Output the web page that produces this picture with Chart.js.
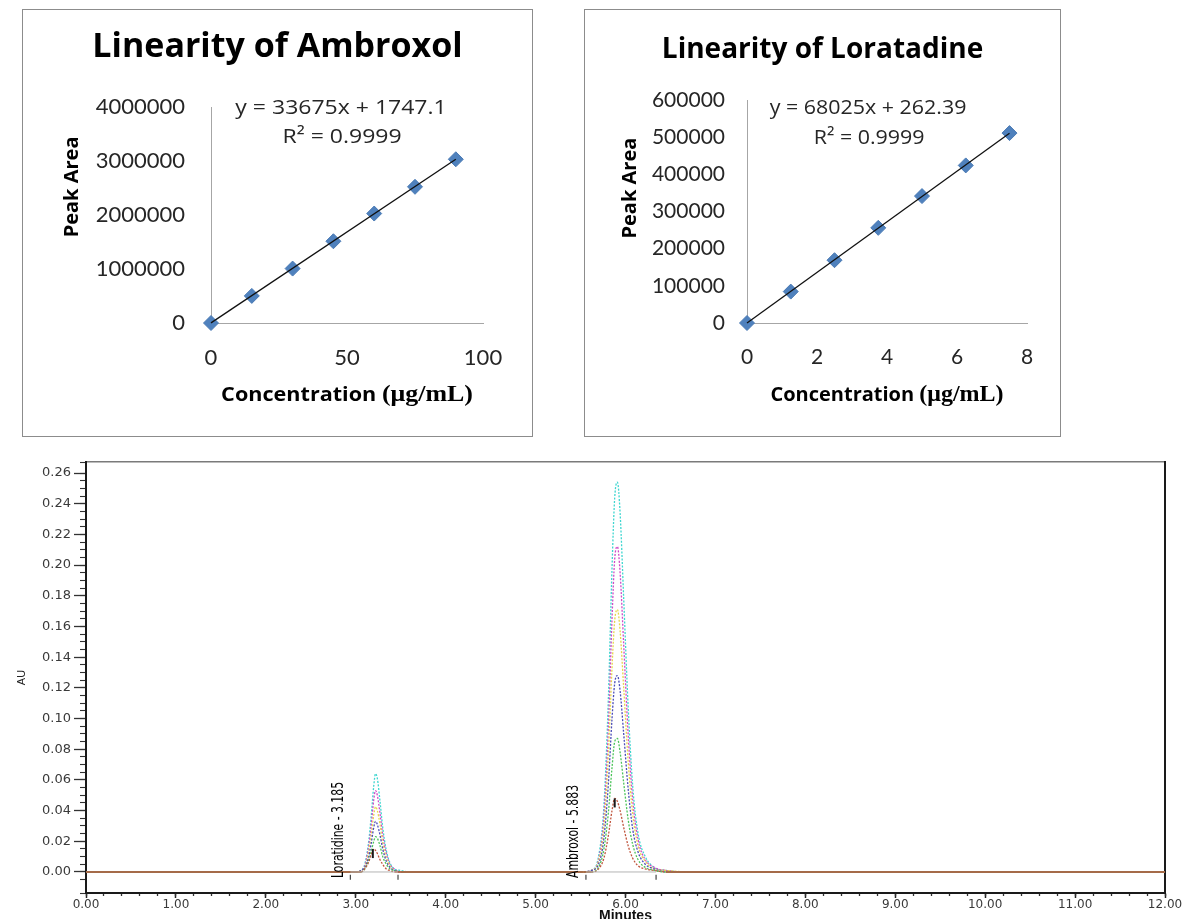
<!DOCTYPE html>
<html>
<head>
<meta charset="utf-8">
<title>Linearity and chromatogram</title>
<script src="https://cdn.jsdelivr.net/npm/chart.js@4.4.1/dist/chart.umd.min.js"></script>
<style>
  html, body { margin: 0; padding: 0; background: #fff; }
  body { width: 1184px; height: 919px; position: relative; overflow: hidden; }
  .panel { position: absolute; border: 1px solid #8c8c8c; background: #fff; }
  #ambroxolBox { left: 22px; top: 9px; width: 509px; height: 426px; }
  #loratadineBox { left: 584px; top: 9px; width: 475px; height: 426px; }
  #chromBox { position: absolute; left: 0; top: 450px; width: 1184px; height: 475px; }
  canvas { display: block; }
</style>
</head>
<body>
<div class="panel" id="ambroxolBox"><canvas id="ambroxolChart" width="509" height="426"></canvas></div>
<div class="panel" id="loratadineBox"><canvas id="loratadineChart" width="475" height="426"></canvas></div>
<div id="chromBox"><canvas id="chromChart" width="1184" height="475"></canvas></div>

<script>
// Calibration data
const ambroxolConc = [0, 15, 30, 45, 60, 75, 90];
const ambroxolArea = [0, 502000, 1008000, 1514000, 2027000, 2522000, 3032000];
const ambroxolSlope = 33675;
const ambroxolIntercept = 1747.1;

const loratadineConc = [0, 1.25, 2.5, 3.75, 5, 6.25, 7.5];
const loratadineArea = [0, 84500, 169000, 256000, 341500, 424000, 511000];
const loratadineSlope = 68025;
const loratadineIntercept = 262.39;

const rSquared = '0.9999';

// Overlaid chromatograms (AU vs minutes), one trace per level
const chromTime = [0,
    3.00, 3.06, 3.10, 3.14, 3.17, 3.20, 3.22, 3.24, 3.27, 3.30, 3.34, 3.38, 3.43, 3.50, 3.60,
    5.50, 5.62, 5.70, 5.76, 5.81, 5.85, 5.88, 5.91, 5.94, 5.98, 6.03, 6.08, 6.14, 6.22, 6.32, 6.45, 6.70,
    12.00];
const level6 = [0,
    0, 0.001, 0.005, 0.018, 0.035, 0.056, 0.064, 0.061, 0.046, 0.029, 0.014, 0.006, 0.002, 0.001, 0,
    0, 0.001, 0.010, 0.043, 0.114, 0.198, 0.244, 0.254, 0.234, 0.178, 0.107, 0.056, 0.025, 0.010, 0.003, 0.001, 0,
    0];
const level5 = [0,
    0, 0.001, 0.004, 0.015, 0.029, 0.047, 0.053, 0.050, 0.038, 0.024, 0.012, 0.005, 0.002, 0, 0,
    0, 0.001, 0.008, 0.036, 0.095, 0.165, 0.204, 0.212, 0.195, 0.148, 0.089, 0.047, 0.021, 0.008, 0.003, 0.001, 0,
    0];
const level4 = [0,
    0, 0.001, 0.003, 0.012, 0.023, 0.037, 0.0425, 0.040, 0.031, 0.019, 0.009, 0.004, 0.001, 0, 0,
    0, 0.001, 0.007, 0.029, 0.077, 0.133, 0.164, 0.171, 0.157, 0.120, 0.072, 0.038, 0.017, 0.007, 0.002, 0.001, 0,
    0];
const level3 = [0,
    0, 0.001, 0.003, 0.009, 0.018, 0.029, 0.033, 0.031, 0.024, 0.015, 0.007, 0.003, 0.001, 0, 0,
    0, 0.001, 0.005, 0.022, 0.058, 0.100, 0.123, 0.128, 0.118, 0.090, 0.054, 0.028, 0.013, 0.005, 0.002, 0, 0,
    0];
const level2 = [0,
    0, 0, 0.002, 0.007, 0.013, 0.020, 0.023, 0.022, 0.017, 0.010, 0.005, 0.002, 0.001, 0, 0,
    0, 0, 0.003, 0.015, 0.039, 0.068, 0.085, 0.087, 0.078, 0.058, 0.034, 0.018, 0.008, 0.003, 0.001, 0, 0,
    0];
const level1 = [0,
    0, 0, 0.002, 0.006, 0.011, 0.015, 0.014, 0.012, 0.008, 0.005, 0.002, 0.001, 0, 0, 0,
    0, 0, 0.002, 0.009, 0.024, 0.040, 0.048, 0.046, 0.040, 0.029, 0.017, 0.009, 0.004, 0.002, 0.001, 0, 0,
    0];

// Peak apex marks, integration start/end marks and peak names
const apexTime = [3.19, 5.88];
const apexValue = [0.012, 0.045];
const integrationTime = [2.94, 3.47, 5.56, 6.34];
const peakNames = ['Loratidine - 3.185', 'Ambroxol - 5.883'];

const traces = [level1, level2, level3, level4, level5, level6];
const traceColors = ['#c0563e', '#4cc45a', '#4a4cb8', '#e6d64c', '#d04ac8', '#3fd6d0'];

Chart.defaults.font.family = 'Lato, "Open Sans", sans-serif';
Chart.defaults.color = '#222';

const SANS = '"Open Sans", Lato, sans-serif';

// Free text placed in data coordinates (equations, axis captions, peak names)
const captionPlugin = {
    id: 'captions',
    afterDraw(chart, args, opts) {
        const { ctx, scales } = chart;
        (opts.items || []).forEach(item => {
            const px = scales.x.getPixelForValue(item.x);
            const py = scales.y.getPixelForValue(item.y);
            ctx.save();
            ctx.translate(px, py);
            if (item.rotate) ctx.rotate(item.rotate);
            let width = 0;
            item.runs.forEach(run => {
                ctx.font = run.font;
                width += ctx.measureText(run.text).width;
            });
            let sx = item.stretch || 1;
            if (item.maxWidth && width * sx > item.maxWidth) sx = item.maxWidth / width;
            ctx.scale(sx, 1);
            let cursor = item.align === 'start' ? 0 : -width / 2;
            ctx.fillStyle = item.color || '#000';
            ctx.textBaseline = 'middle';
            ctx.textAlign = 'left';
            item.runs.forEach(run => {
                ctx.font = run.font;
                ctx.fillText(run.text, cursor, 0);
                cursor += ctx.measureText(run.text).width;
            });
            ctx.restore();
        });
    }
};

function fixWidth(w) { return scale => { scale.width = w; }; }
function fixHeight(h) { return scale => { scale.height = h; }; }

// Calibration plot with trendline and equation
function linearityChart(id, cfg) {
    const points = cfg.conc.map((c, i) => ({ x: c, y: cfg.area[i] }));
    const xEnd = cfg.conc[cfg.conc.length - 1];
    const fitLine = [
        { x: 0, y: cfg.intercept },
        { x: xEnd, y: cfg.slope * xEnd + cfg.intercept }
    ];
    const sign = cfg.intercept >= 0 ? '+' : '-';
    const equation = `y = ${cfg.slope}x ${sign} ${Math.abs(cfg.intercept)}`;

    new Chart(document.getElementById(id), {
        type: 'scatter',
        data: {
            datasets: [{
                type: 'line',
                data: fitLine,
                borderColor: '#111',
                borderWidth: 1.3,
                pointRadius: 0,
                order: 0,
                clip: false
            }, {
                data: points,
                pointStyle: 'rectRot',
                pointRadius: 7.5,
                backgroundColor: '#4f81bd',
                borderColor: '#4a7ab4',
                borderWidth: 1,
                order: 1,
                clip: false
            }]
        },
        options: {
            responsive: false,
            animation: false,
            scales: {
                x: {
                    type: 'linear', min: 0, max: cfg.xMax,
                    grid: { display: false, drawTicks: false },
                    border: { color: '#a6a6a6', width: 1 },
                    ticks: { stepSize: cfg.xStep, padding: 22, font: { size: cfg.tickSize }, color: '#262626', callback: v => String(v) },
                    afterFit: fixHeight(113)
                },
                y: {
                    min: 0, max: cfg.yMax,
                    grid: { display: false, drawTicks: false },
                    border: { color: '#a6a6a6', width: 1 },
                    ticks: { stepSize: cfg.yStep, padding: cfg.yPad, font: { size: cfg.tickSize }, color: '#262626', callback: v => String(v) },
                    afterFit: fixWidth(cfg.yWidth)
                },
                // empty strip on the right so the title stays centred on the panel
                rightSpace: {
                    position: 'right', min: 0, max: 1,
                    grid: { display: false, drawTicks: false },
                    border: { display: false },
                    ticks: { display: false },
                    afterFit: fixWidth(cfg.padRight)
                }
            },
            plugins: {
                legend: { display: false },
                tooltip: { enabled: false },
                title: {
                    display: true,
                    text: cfg.title,
                    color: '#000',
                    font: { family: SANS, size: cfg.titleSize, weight: 'bold', lineHeight: 1.2 },
                    padding: cfg.titlePad
                },
                captions: {
                    items: [
                        { runs: [{ text: equation, font: '20px ' + SANS }], x: cfg.eqPos[0], y: cfg.eqPos[1], color: '#262626', stretch: cfg.eqStretch },
                        { runs: [{ text: 'R² = ' + rSquared, font: '20px ' + SANS }], x: cfg.r2Pos[0], y: cfg.r2Pos[1], color: '#262626', stretch: cfg.eqStretch },
                        {
                            runs: [
                                { text: 'Concentration ', font: 'bold 20px ' + SANS },
                                { text: '(μg/mL)', font: 'bold 24px "Liberation Serif", "DejaVu Serif", serif' }
                            ],
                            x: cfg.xTitlePos[0], y: cfg.xTitlePos[1], stretch: cfg.xTitleStretch
                        },
                        { runs: [{ text: 'Peak Area', font: 'bold 20px ' + SANS }], x: cfg.yTitlePos[0], y: cfg.yTitlePos[1], rotate: -Math.PI / 2 }
                    ]
                }
            }
        },
        plugins: [captionPlugin]
    });
}

// Overlaid chromatograms with minor ticks and peak annotations
function chromatogramChart(id) {
    const datasets = traces.map((trace, i) => ({
        data: chromTime.map((t, j) => ({ x: t, y: trace[j] })),
        borderColor: traceColors[i],
        borderWidth: 1.3,
        pointRadius: 0,
        cubicInterpolationMode: 'monotone',
        // peaks look dotted, the flat baseline stays solid
        segment: {
            borderDash: ctx => (ctx.p0.parsed.y > 0 || ctx.p1.parsed.y > 0) ? [2, 1.5] : undefined
        },
        order: i + 1
    }));
    // integration baselines under each peak
    datasets.push({
        data: [
            { x: integrationTime[0], y: 0 }, { x: integrationTime[1], y: 0 },
            { x: (integrationTime[1] + integrationTime[2]) / 2, y: null },
            { x: integrationTime[2], y: 0 }, { x: integrationTime[3], y: 0 }
        ],
        borderColor: '#b4b4b4',
        borderWidth: 1,
        pointRadius: 0,
        spanGaps: false,
        order: 0
    });
    datasets.push({
        data: integrationTime.map(t => ({ x: t, y: -0.0035 })),
        showLine: false,
        pointStyle: 'line',
        rotation: 90,
        pointRadius: 2.5,
        borderColor: '#444',
        borderWidth: 1.2,
        order: -1
    });
    datasets.push({
        data: apexTime.map((t, i) => ({ x: t, y: apexValue[i] })),
        showLine: false,
        pointStyle: 'line',
        rotation: 90,
        pointRadius: 4.5,
        borderColor: '#1a1a1a',
        borderWidth: 2,
        order: -2
    });

    new Chart(document.getElementById(id), {
        type: 'line',
        data: { datasets },
        options: {
            responsive: false,
            animation: false,
            layout: { padding: { top: 12, right: 19, bottom: 0, left: 0 } },
            scales: {
                x: {
                    type: 'linear', position: 'bottom', weight: 1, min: 0, max: 12,
                    grid: { display: true, drawOnChartArea: false, tickLength: 5, tickColor: '#222', tickWidth: 1.5 },
                    border: { color: '#1a1a1a', width: 2 },
                    ticks: {
                        stepSize: 1, padding: 0, autoSkip: false, maxRotation: 0,
                        font: { family: '"DejaVu Sans", sans-serif', size: 12 }, color: '#3a3a3a',
                        callback: v => v.toFixed(2)
                    },
                    title: {
                        display: true, text: 'Minutes', color: '#111',
                        font: { family: '"Liberation Sans", Arial, sans-serif', size: 14, weight: 'bold' },
                        padding: { top: 0, bottom: 0 }
                    },
                    afterFit: fixHeight(32)
                },
                xMinor: {
                    type: 'linear', position: 'bottom', weight: 0, min: 0, max: 12,
                    grid: { display: true, drawOnChartArea: false, tickLength: 3, tickColor: '#333', tickWidth: 1.3 },
                    border: { display: false },
                    ticks: { display: false, stepSize: 0.2 },
                    afterFit: fixHeight(0)
                },
                xTop: {
                    type: 'linear', position: 'top', min: 0, max: 12,
                    grid: { display: false },
                    border: { color: '#7a7a7a', width: 1.5 },
                    ticks: { display: false },
                    afterFit: fixHeight(0)
                },
                y: {
                    position: 'left', weight: 1, min: -0.0137, max: 0.2672,
                    grid: { display: true, drawOnChartArea: false, tickLength: 12, tickColor: '#333', tickWidth: 1.3 },
                    border: { color: '#1a1a1a', width: 2 },
                    ticks: {
                        stepSize: 0.02, includeBounds: false, padding: 3, autoSkip: false,
                        font: { family: '"DejaVu Sans", sans-serif', size: 13 }, color: '#3a3a3a',
                        callback: v => v.toFixed(2)
                    },
                    title: {
                        display: true, text: 'AU', color: '#222',
                        font: { family: '"Liberation Sans", Arial, sans-serif', size: 11 },
                        padding: { top: 15, bottom: 0 }
                    },
                    afterFit: fixWidth(86)
                },
                yMinor: {
                    position: 'left', weight: 0, min: -0.0137, max: 0.2672,
                    grid: { display: true, drawOnChartArea: false, tickLength: 6, tickColor: '#333', tickWidth: 1.1 },
                    border: { display: false },
                    ticks: { display: false, stepSize: 0.005 },
                    afterFit: fixWidth(0)
                },
                yRight: {
                    position: 'right', min: -0.0137, max: 0.2672,
                    grid: { display: false },
                    border: { color: '#1a1a1a', width: 2 },
                    ticks: { display: false },
                    afterFit: fixWidth(0)
                }
            },
            plugins: {
                legend: { display: false },
                tooltip: { enabled: false },
                captions: {
                    items: [
                        {
                            runs: [{ text: peakNames[0], font: '16px "Liberation Sans Narrow", "DejaVu Sans Condensed", sans-serif' }],
                            x: 2.81, y: -0.0039, rotate: -Math.PI / 2, align: 'start', maxWidth: 96
                        },
                        {
                            runs: [{ text: peakNames[1], font: '16px "Liberation Sans Narrow", "DejaVu Sans Condensed", sans-serif' }],
                            x: 5.42, y: -0.0039, rotate: -Math.PI / 2, align: 'start', maxWidth: 93
                        }
                    ]
                }
            }
        },
        plugins: [captionPlugin]
    });
}

document.addEventListener('DOMContentLoaded', () => {
    linearityChart('ambroxolChart', {
        conc: ambroxolConc, area: ambroxolArea,
        slope: ambroxolSlope, intercept: ambroxolIntercept,
        title: 'Linearity of Ambroxol', titleSize: 34, titlePad: { top: 16.6, bottom: 39.6 },
        xMax: 100, xStep: 50, yMax: 4000000, yStep: 1000000,
        tickSize: 22, yPad: 26, yWidth: 188, padRight: 49,
        eqPos: [47.8, 3980000], r2Pos: [48.2, 3440000], eqStretch: 1.15,
        xTitlePos: [50, -1333000], yTitlePos: [-51.1, 2520000], xTitleStretch: 1.08
    });

    linearityChart('loratadineChart', {
        conc: loratadineConc, area: loratadineArea,
        slope: loratadineSlope, intercept: loratadineIntercept,
        title: 'Linearity of Loratadine', titleSize: 28, titlePad: { top: 23.2, bottom: 33.2 },
        xMax: 8, xStep: 2, yMax: 600000, yStep: 100000,
        tickSize: 21, yPad: 22, yWidth: 162, padRight: 33,
        eqPos: [3.46, 578000], r2Pos: [3.49, 498000], eqStretch: 1.07,
        xTitlePos: [4.0, -193700], yTitlePos: [-3.34, 363000], xTitleStretch: 1
    });

    chromatogramChart('chromChart');
});
</script>
</body>
</html>
